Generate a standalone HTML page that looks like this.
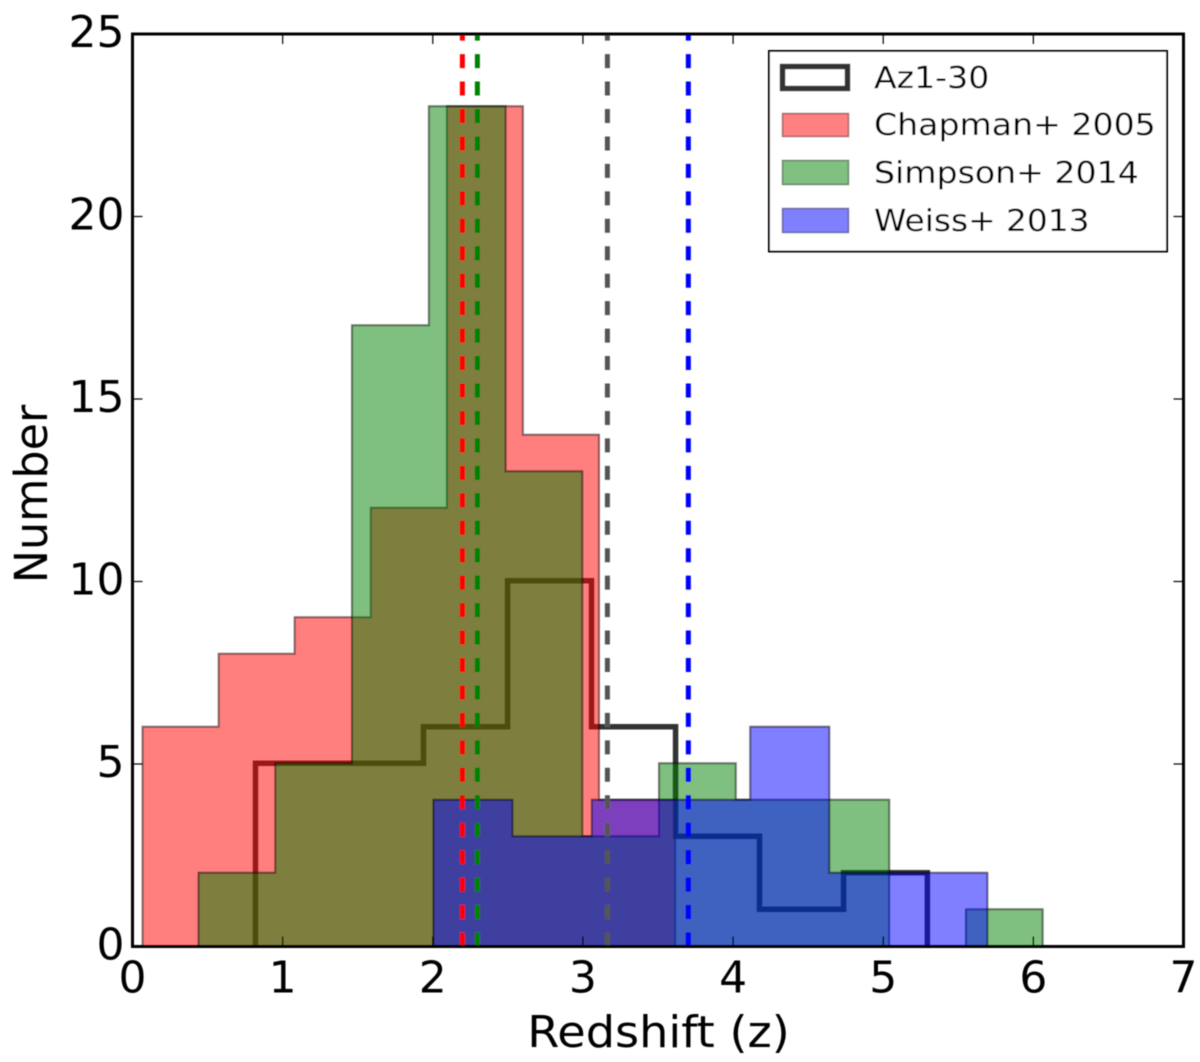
<!DOCTYPE html>
<html lang="en">
<head>
<meta charset="utf-8">
<title>Redshift distribution histogram</title>
<style>
html,body{margin:0;padding:0;background:#fff;width:1200px;height:1062px;overflow:hidden}
svg{display:block}
text{font-family:"DejaVu Sans","Liberation Sans",sans-serif;fill:#000}
</style>
</head>
<body>
<svg id="chart" xmlns="http://www.w3.org/2000/svg" width="1200" height="1062" viewBox="0 0 1200 1062">
  <defs>
    <clipPath id="plot-clip"><rect x="132.5" y="34" width="1051" height="912.5"></rect></clipPath>
    <filter id="soft" x="-2%" y="-2%" width="104%" height="104%"><feGaussianBlur stdDeviation="0.55"></feGaussianBlur></filter>
  </defs>
  <rect x="132.5" y="34" width="1051" height="912.5" fill="#fff"></rect>
  <g id="soft-layer" filter="url(#soft)">
    <g id="marks" clip-path="url(#plot-clip)"></g>
    <rect x="132.5" y="34" width="1051" height="912.5" fill="none" stroke="#000" stroke-width="3"></rect>
    <g id="ticks"></g>
    <g>
      <rect x="769" y="51" width="398" height="200.5" fill="#fff" stroke="#000" stroke-width="2"></rect>
      <rect x="782.5" y="66.5" width="65" height="22" fill="#fff" stroke="#333" stroke-width="5.5"></rect>
      <rect x="782.5" y="113.5" width="66" height="23" fill="#ff8080" stroke="#804040" stroke-opacity=".7" stroke-width="1.5"></rect>
      <rect x="782.5" y="160.5" width="66" height="24" fill="#80c080" stroke="#406040" stroke-opacity=".7" stroke-width="1.5"></rect>
      <rect x="782.5" y="208.5" width="66" height="24" fill="#8080ff" stroke="#404080" stroke-opacity=".7" stroke-width="1.5"></rect>
      <text transform="translate(874,88) scale(1.105,1)" font-size="30">Az1-30</text>
      <text transform="translate(874,135) scale(1.105,1)" font-size="30">Chapman+ 2005</text>
      <text transform="translate(874,183) scale(1.105,1)" font-size="30">Simpson+ 2014</text>
      <text transform="translate(874,231) scale(1.095,1)" font-size="30">Weiss+ 2013</text>
    </g>
    <text text-anchor="middle" font-size="44" transform="translate(658.5,1047) scale(1.05,1)">Redshift (z)</text>
    <text text-anchor="middle" font-size="44" transform="translate(47,494) rotate(-90) scale(1.01,1.03)">Number</text>
  </g>
</svg>
<script>
const xTickValues = [0, 1, 2, 3, 4, 5, 6, 7];
const yTickValues = [0, 5, 10, 15, 20, 25];

const az130Edges = [0.819, 1.379, 1.938, 2.498, 3.057, 3.617, 4.176, 4.736, 5.294];
const az130Counts = [5, 5, 6, 10, 6, 3, 1, 2];

const chapmanEdges = [0.067, 0.574, 1.080, 1.587, 2.094, 2.600, 3.107, 3.614];
const chapmanCounts = [6, 8, 9, 12, 23, 14, 4];

const simpsonEdges = [0.440, 0.951, 1.462, 1.974, 2.485, 2.996, 3.507, 4.018, 4.529, 5.040, 5.551, 6.062];
const simpsonCounts = [2, 5, 17, 23, 13, 3, 5, 4, 4, 0, 1];

const weissEdges = [2.004, 2.531, 3.059, 3.586, 4.114, 4.641, 5.169, 5.694];
const weissCounts = [4, 3, 4, 4, 6, 2, 2];

const medianChapman = 2.197;
const medianSimpson = 2.297;
const medianAz130 = 3.163;
const medianWeiss = 3.702;

const NS = 'http://www.w3.org/2000/svg';
const X0 = 132.5, X1 = 1183.5, Y0 = 946.5, Y1 = 34;
function sx(v) { return X0 + (v / 7) * (X1 - X0); }
function sy(v) { return Y0 - (v / 25) * (Y0 - Y1); }
function sBar(v) { return sy(v) - (v > 0 ? 0.7 : 0); }

function stepPoints(edges, counts) {
  const pts = [[sx(edges[0]), sy(0)]];
  counts.forEach(function (c, i) {
    pts.push([sx(edges[i]), sBar(c)]);
    pts.push([sx(edges[i + 1]), sBar(c)]);
  });
  pts.push([sx(edges[edges.length - 1]), sy(0)]);
  return pts.map(function (p) { return p[0].toFixed(2) + ',' + p[1].toFixed(2); }).join(' ');
}

const marks = document.getElementById('marks');
const ticks = document.getElementById('ticks');
const soft = document.getElementById('soft-layer');

const azLine = document.createElementNS(NS, 'polyline');


azLine.setAttribute('points', stepPoints(az130Edges, az130Counts));
azLine.setAttribute('fill', 'none');
azLine.setAttribute('stroke', '#000');
azLine.setAttribute('stroke-opacity', '0.8');
azLine.setAttribute('stroke-width', '5.5');
marks.appendChild(azLine);

const chapmanShape = document.createElementNS(NS, 'polygon');


chapmanShape.setAttribute('points', stepPoints(chapmanEdges, chapmanCounts));
chapmanShape.setAttribute('fill', '#ff0000');
chapmanShape.setAttribute('fill-opacity', '0.5');
chapmanShape.setAttribute('stroke', '#000');
chapmanShape.setAttribute('stroke-opacity', '0.5');
chapmanShape.setAttribute('stroke-width', '2');
marks.appendChild(chapmanShape);

const simpsonShape = document.createElementNS(NS, 'polygon');


simpsonShape.setAttribute('points', stepPoints(simpsonEdges, simpsonCounts));
simpsonShape.setAttribute('fill', '#008000');
simpsonShape.setAttribute('fill-opacity', '0.5');
simpsonShape.setAttribute('stroke', '#000');
simpsonShape.setAttribute('stroke-opacity', '0.5');
simpsonShape.setAttribute('stroke-width', '2');
marks.appendChild(simpsonShape);

const weissShape = document.createElementNS(NS, 'polygon');


weissShape.setAttribute('points', stepPoints(weissEdges, weissCounts));
weissShape.setAttribute('fill', '#0000ff');
weissShape.setAttribute('fill-opacity', '0.5');
weissShape.setAttribute('stroke', '#000');
weissShape.setAttribute('stroke-opacity', '0.5');
weissShape.setAttribute('stroke-width', '2');
marks.appendChild(weissShape);

function addMedian(value, color, name) {
  const line = document.createElementNS(NS, 'line');
  
  
  line.setAttribute('x1', sx(value));
  line.setAttribute('x2', sx(value));
  line.setAttribute('y1', Y0);
  line.setAttribute('y2', Y1);
  line.setAttribute('stroke', color);
  line.setAttribute('stroke-width', '5');
  line.setAttribute('stroke-dasharray', '14 13.45');
  marks.appendChild(line);
}
addMedian(medianChapman, '#ff0000', 'median-line-chapman');
addMedian(medianSimpson, '#008000', 'median-line-simpson');
addMedian(medianAz130, '#555555', 'median-line-az1-30');
addMedian(medianWeiss, '#0000ff', 'median-line-weiss');

xTickValues.forEach(function (v) {
  [[Y0, Y0 - 10], [Y1, Y1 + 10]].forEach(function (pair) {
    const t = document.createElementNS(NS, 'line');
    
    
    t.setAttribute('x1', sx(v));
    t.setAttribute('x2', sx(v));
    t.setAttribute('y1', pair[0]);
    t.setAttribute('y2', pair[1]);
    t.setAttribute('stroke', '#000');
    t.setAttribute('stroke-width', '1.2');
    ticks.appendChild(t);
  });
  const label = document.createElementNS(NS, 'text');
  
  
  label.setAttribute('text-anchor', 'middle');
  label.setAttribute('font-size', '44');
  label.setAttribute('transform', 'translate(' + sx(v) + ',992.5)');
  label.textContent = String(v);
  soft.appendChild(label);
});

yTickValues.forEach(function (v) {
  [[X0, X0 + 10], [X1, X1 - 10]].forEach(function (pair) {
    const t = document.createElementNS(NS, 'line');
    
    
    t.setAttribute('x1', pair[0]);
    t.setAttribute('x2', pair[1]);
    t.setAttribute('y1', sy(v));
    t.setAttribute('y2', sy(v));
    t.setAttribute('stroke', '#000');
    t.setAttribute('stroke-width', '1.2');
    ticks.appendChild(t);
  });
  const label = document.createElementNS(NS, 'text');
  
  
  label.setAttribute('text-anchor', 'end');
  label.setAttribute('font-size', '44');
  label.setAttribute('transform', 'translate(124.5,' + (sy(v) + 13) + ')');
  label.textContent = String(v);
  soft.appendChild(label);
});
</script>
</body>
</html>
